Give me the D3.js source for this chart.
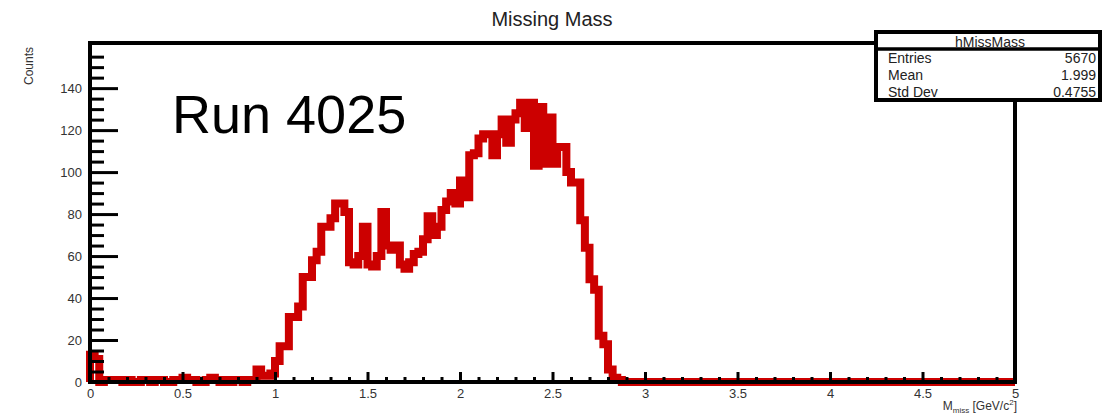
<!DOCTYPE html>
<html>
<head>
<meta charset="utf-8">
<script src="https://cdn.jsdelivr.net/npm/d3@7"></script>
<style>
  html, body { margin: 0; padding: 0; background: #fff; }
  svg { display: block; font-family: "Liberation Sans", Arial, sans-serif; }
</style>
</head>
<body>
<svg id="chart" width="1112" height="415"></svg>
<script>
// Histogram definition: 200 bins over [0, 5] GeV/c^2
const xLimits = [0, 5];
const yLimits = [0, 161.5];
const nBins = 200;

// Bin contents, in order from the lowest bin
const counts = [
  13, 11, 0, 1, 1, 1, 1, 0, 1, 0, 0, 1, 1, 0, 1, 1, 0, 0, 1, 1,
  2, 1, 1, 0, 0, 1, 2, 1, 0, 1, 0, 1, 1, 0, 1,
  1, 6, 3, 3, 4, 10, 17, 17, 31, 31, 36, 50, 50, 58, 62, 74, 74,
  78, 85, 85, 81, 57, 56, 60, 74, 56, 55, 60, 81, 65, 63, 65, 56, 54, 57,
  61, 62, 68, 79, 70, 74, 82, 86, 90, 85, 96, 88,
  108, 109, 116, 118, 118, 108, 118, 125, 114, 125, 128, 133, 121, 133, 103, 131, 104, 126, 104,
  112, 112, 100, 95, 95, 77, 64, 49, 44, 22, 18, 6, 2, 1,
  0, 0, 0, 0, 0, 0, 0, 0, 0, 0, 0, 0, 0, 0, 0, 0, 0, 0, 0, 0,
  0, 0, 0, 0, 0, 0, 0, 0, 0, 0, 0, 0, 0, 0, 0, 0, 0, 0, 0, 0,
  0, 0, 0, 0, 0, 0, 0, 0, 0, 0, 0, 0, 0, 0, 0, 0, 0, 0, 0, 0,
  0, 0, 0, 0, 0, 0, 0, 0, 0, 0, 0, 0, 0, 0, 0, 0, 0, 0, 0, 0,
  0, 0, 0, 0, 0
];

// Axis ticks
const xTickValues = [0, 0.5, 1, 1.5, 2, 2.5, 3, 3.5, 4, 4.5, 5];
const xTickLabels = ["0", "0.5", "1", "1.5", "2", "2.5", "3", "3.5", "4", "4.5", "5"];
const yTickValues = [0, 20, 40, 60, 80, 100, 120, 140];
const yTickLabels = ["0", "20", "40", "60", "80", "100", "120", "140"];

// Statistics box
const statTitle = "hMissMass";
const statNames = ["Entries", "Mean", "Std Dev"];
const statValues = ["5670", "1.999", "0.4755"];

const chartTitle = "Missing Mass";
const runLabel = "Run 4025";

// ---- layout ----
const frame = { left: 90, right: 1015, top: 43, bottom: 382 };
const svg = d3.select("#chart");

const x = d3.scaleLinear().domain(xLimits).range([frame.left, frame.right]);
const y = d3.scaleLinear().domain(yLimits).range([frame.bottom, frame.top]);

// ---- histogram outline ----
const binWidth = (xLimits[1] - xLimits[0]) / nBins;
const steps = counts.map((c, i) => ({ lo: xLimits[0] + i * binWidth, c }));
steps.push({ lo: xLimits[1], c: counts[counts.length - 1] });

const outline = d3.line()
  .x(d => x(d.lo))
  .y(d => y(d.c))
  .curve(d3.curveStepAfter);

const pathData = "M" + x(xLimits[0]) + "," + y(0) + "L" + outline(steps).slice(1);

svg.append("path")
  .attr("d", pathData)
  .attr("fill", "none")
  .attr("stroke", "#cc0000")
  .attr("stroke-width", 8)
  .attr("stroke-linejoin", "miter");

// ---- axes ----
const labelColor = "#333";

function styleAxis(g, tickWidth) {
  g.selectAll(".tick line").attr("stroke", "#000").attr("stroke-width", tickWidth);
  g.selectAll(".tick text").attr("fill", labelColor).style("font-size", "13px")
    .style("font-family", "'Liberation Sans', Arial, sans-serif");
}

// minor ticks
const minorY = d3.range(0, 161, 5).filter(v => v % 20 !== 0);
const minorX = d3.range(0, 51, 1).map(v => v / 10).filter(v => Math.abs(v * 2 - Math.round(v * 2)) > 1e-9);

svg.append("g")
  .attr("transform", `translate(${frame.left},0)`)
  .call(d3.axisLeft(y).tickValues(minorY).tickSize(-14).tickFormat(""))
  .call(g => g.select(".domain").remove())
  .call(g => styleAxis(g, 3));

svg.append("g")
  .attr("transform", `translate(0,${frame.bottom})`)
  .call(d3.axisBottom(x).tickValues(minorX).tickSize(-5).tickFormat(""))
  .call(g => g.select(".domain").remove())
  .call(g => styleAxis(g, 3));

// major ticks with labels
svg.append("g")
  .attr("transform", `translate(${frame.left},0)`)
  .call(d3.axisLeft(y).tickValues(yTickValues).tickFormat((d, i) => yTickLabels[i])
    .tickSize(-28).tickSizeOuter(0).tickPadding(8))
  .call(g => g.select(".domain").remove())
  .call(g => styleAxis(g, 3));

svg.append("g")
  .attr("transform", `translate(0,${frame.bottom})`)
  .call(d3.axisBottom(x).tickValues(xTickValues).tickFormat((d, i) => xTickLabels[i])
    .tickSize(-10).tickSizeOuter(0).tickPadding(7))
  .call(g => g.select(".domain").remove())
  .call(g => styleAxis(g, 3));

// frame
svg.append("path")
  .attr("d", `M${frame.left},${frame.top}H${frame.right}V${frame.bottom}H${frame.left}Z`)
  .attr("fill", "none")
  .attr("stroke", "#000")
  .attr("stroke-width", 4)
  .attr("stroke-linejoin", "miter");

// ---- axis titles ----
svg.append("text")
  .attr("transform", `translate(33,${frame.top + 4}) rotate(-90)`)
  .attr("text-anchor", "end")
  .attr("fill", labelColor)
  .style("font-size", "12px")
  .text("Counts");

const xTitle = svg.append("text")
  .attr("x", frame.right + 2)
  .attr("y", 410)
  .attr("text-anchor", "end")
  .attr("fill", labelColor)
  .style("font-size", "12px");
xTitle.append("tspan").text("M");
xTitle.append("tspan").attr("dy", 2.5).style("font-size", "8px").text("miss");
xTitle.append("tspan").attr("dy", -2.5).text(" [GeV/c");
xTitle.append("tspan").attr("dy", -5).style("font-size", "8px").text("2");
xTitle.append("tspan").attr("dy", 5).text("]");

// ---- title ----
svg.append("text")
  .attr("x", 552)
  .attr("y", 26)
  .attr("text-anchor", "middle")
  .attr("fill", "#222")
  .style("font-size", "20px")
  .text(chartTitle);

// ---- run label ----
svg.append("text")
  .attr("x", 172)
  .attr("y", 133)
  .attr("fill", "#000")
  .style("font-size", "54px")
  .text(runLabel);

// ---- statistics box ----
const box = { x: 876, y: 32, w: 224, h: 68, header: 49 };
const stats = svg.append("g");
stats.append("rect")
  .attr("x", box.x).attr("y", box.y).attr("width", box.w).attr("height", box.h)
  .attr("fill", "#fff").attr("stroke", "#000").attr("stroke-width", 4);
stats.append("line")
  .attr("x1", box.x).attr("x2", box.x + box.w)
  .attr("y1", box.header).attr("y2", box.header)
  .attr("stroke", "#000").attr("stroke-width", 3.5);
stats.append("text")
  .attr("x", box.x + box.w / 2 + 2).attr("y", 46.5)
  .attr("text-anchor", "middle").attr("fill", "#222")
  .style("font-size", "14px")
  .text(statTitle);
statNames.forEach((name, i) => {
  const yy = 63 + i * 17;
  stats.append("text").attr("x", box.x + 12).attr("y", yy)
    .attr("fill", "#222").style("font-size", "14px").text(name);
  stats.append("text").attr("x", box.x + box.w - 4).attr("y", yy)
    .attr("text-anchor", "end").attr("fill", "#222").style("font-size", "14px").text(statValues[i]);
});
// keep the bottom border above the last row
stats.append("line")
  .attr("x1", box.x).attr("x2", box.x + box.w)
  .attr("y1", box.y + box.h).attr("y2", box.y + box.h)
  .attr("stroke", "#000").attr("stroke-width", 4);
</script>
</body>
</html>
